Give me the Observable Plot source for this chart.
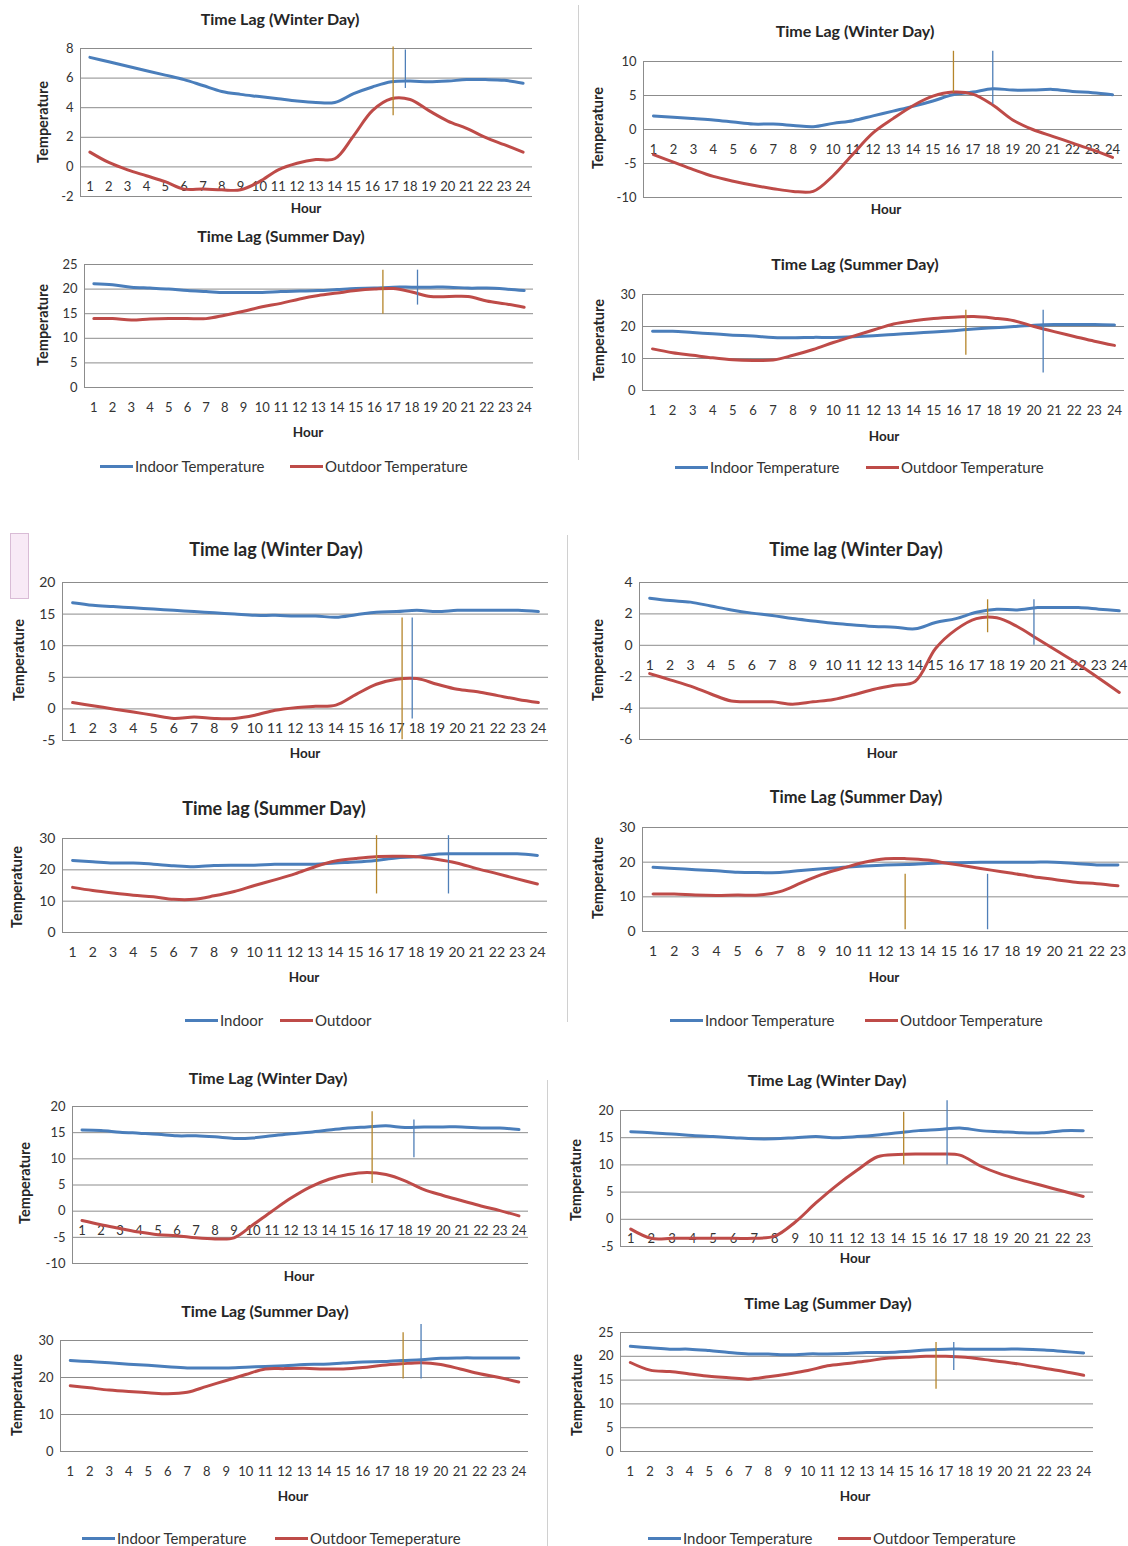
<!DOCTYPE html>
<html><head><meta charset="utf-8">
<script src="https://cdn.jsdelivr.net/npm/d3@7"></script>
<script src="https://cdn.jsdelivr.net/npm/@observablehq/plot@0.6"></script>
<style>
body{margin:0;background:#fff;font-family:Lato,"Open Sans",sans-serif;}
#page{position:relative;width:1128px;height:1546px;overflow:hidden;background:#fff;}
.abs{position:absolute;}
.title{font-weight:bold;color:#262626;white-space:nowrap;transform:translate(-50%,-50%);}
.hour{font-weight:bold;font-size:13.5px;color:#262626;white-space:nowrap;transform:translate(-50%,-50%);}
.temp{font-weight:bold;font-size:14.5px;color:#262626;white-space:nowrap;transform:translate(-50%,-50%) rotate(-90deg);}
.legend{font-size:15px;color:#333;white-space:nowrap;display:flex;align-items:center;transform:translateY(-50%);}
.sw{display:inline-block;width:33px;height:3px;margin-right:2px;}
.div{position:absolute;width:1px;background:#d0d0d0;}
</style></head><body><div id="page"></div>
<script>
// ---------- categories ----------
const hours24 = [1,2,3,4,5,6,7,8,9,10,11,12,13,14,15,16,17,18,19,20,21,22,23,24];
const hours23 = [1,2,3,4,5,6,7,8,9,10,11,12,13,14,15,16,17,18,19,20,21,22,23];

// ---------- titles & labels ----------
const titles = ["Time Lag (Winter Day)","Time Lag (Winter Day)","Time Lag (Summer Day)","Time Lag (Summer Day)",
  "Time lag (Winter Day)","Time lag (Winter Day)","Time lag (Summer Day)","Time Lag (Summer Day)",
  "Time Lag (Winter Day)","Time Lag (Winter Day)","Time Lag (Summer Day)","Time Lag (Summer Day)"];
const xTitle = "Hour";
const yTitle = "Temperature";
const legendA = ["Indoor Temperature","Outdoor Temperature"];
const legendB = ["Indoor","Outdoor"];
const legendC = ["Indoor Temperature","Outdoor Temeperature"];

// ---------- y tick labels ----------
const p1Ticks = [-2,0,2,4,6,8];
const p2Ticks = [-10,-5,0,5,10];
const p3Ticks = [0,5,10,15,20,25];
const p4Ticks = [0,10,20,30];
const p5Ticks = [-5,0,5,10,15,20];
const p6Ticks = [-6,-4,-2,0,2,4];
const p7Ticks = [0,10,20,30];
const p8Ticks = [0,10,20,30];
const p9Ticks = [-10,-5,0,5,10,15,20];
const p10Ticks = [-5,0,5,10,15,20];
const p11Ticks = [0,10,20,30];
const p12Ticks = [0,5,10,15,20,25];

// ---------- series ----------
const p1Indoor = [7.4,7.1,6.8,6.5,6.2,5.9,5.5,5.1,4.9,4.75,4.6,4.45,4.35,4.35,4.95,5.4,5.75,5.8,5.75,5.8,5.9,5.9,5.85,5.65];
const p1Outdoor = [1.0,0.3,-0.2,-0.6,-1.0,-1.5,-1.5,-1.55,-1.55,-1.0,-0.2,0.25,0.5,0.55,2.1,3.8,4.6,4.55,3.8,3.1,2.6,2.0,1.5,1.0];
const p2Indoor = [2.0,1.8,1.6,1.4,1.1,0.8,0.8,0.6,0.4,0.9,1.3,2.0,2.7,3.4,4.2,5.1,5.5,6.0,5.8,5.8,5.9,5.6,5.4,5.1];
const p2Outdoor = [-3.7,-4.8,-5.9,-6.9,-7.6,-8.2,-8.7,-9.1,-9.1,-6.8,-3.6,-0.5,1.6,3.5,4.9,5.5,5.2,3.6,1.4,0.0,-1.0,-2.0,-3.0,-4.1];
const p3Indoor = [21.1,20.9,20.4,20.2,20.0,19.7,19.5,19.3,19.3,19.3,19.5,19.6,19.7,19.9,20.1,20.2,20.4,20.4,20.4,20.4,20.2,20.2,20.0,19.7];
const p3Outdoor = [14.0,14.0,13.7,13.9,14.0,14.0,14.0,14.7,15.5,16.4,17.1,18.0,18.7,19.2,19.7,20.0,20.1,19.4,18.5,18.5,18.5,17.6,17.0,16.3];
const p4Indoor = [18.5,18.5,18.1,17.7,17.3,17.0,16.6,16.5,16.6,16.6,16.8,17.1,17.5,17.9,18.3,18.7,19.2,19.6,20.0,20.4,20.6,20.6,20.6,20.5];
const p4Outdoor = [13.0,11.8,11.0,10.2,9.6,9.4,9.5,11.0,12.8,15.0,17.0,18.9,20.8,21.8,22.5,22.9,23.1,22.6,21.8,20.0,18.4,16.9,15.4,14.1];
const p5Indoor = [16.8,16.4,16.2,16.0,15.8,15.6,15.4,15.2,15.0,14.8,14.8,14.7,14.7,14.5,14.9,15.3,15.4,15.6,15.4,15.6,15.6,15.6,15.6,15.4];
const p5Outdoor = [1.0,0.5,0.0,-0.5,-1.0,-1.5,-1.3,-1.5,-1.5,-1.0,-0.2,0.2,0.4,0.6,2.3,3.9,4.7,4.8,3.9,3.1,2.7,2.1,1.5,1.0];
const p6Indoor = [3.0,2.85,2.75,2.5,2.25,2.05,1.9,1.7,1.55,1.4,1.3,1.2,1.15,1.05,1.45,1.7,2.1,2.3,2.25,2.4,2.4,2.4,2.3,2.2];
const p6Outdoor = [-1.8,-2.2,-2.6,-3.1,-3.55,-3.6,-3.6,-3.75,-3.6,-3.45,-3.15,-2.8,-2.55,-2.3,-0.2,1.0,1.7,1.75,1.2,0.4,-0.4,-1.2,-2.1,-3.0];
const p7Indoor = [23.0,22.6,22.2,22.2,21.8,21.3,21.0,21.4,21.5,21.5,21.8,21.8,21.8,22.2,22.5,23.0,23.8,24.2,25.0,25.1,25.1,25.1,25.1,24.6];
const p7Outdoor = [14.4,13.4,12.6,11.9,11.4,10.6,10.6,11.7,13.1,15.0,16.8,18.7,21.0,22.8,23.6,24.2,24.3,24.2,23.4,22.2,20.4,18.8,17.1,15.5];
const p8Indoor = [18.5,18.2,17.8,17.5,17.1,17.0,17.0,17.6,18.1,18.5,18.9,19.2,19.3,19.6,19.8,19.9,20.0,20.0,20.0,20.0,19.6,19.2,19.2];
const p8Outdoor = [10.8,10.8,10.5,10.4,10.5,10.5,11.5,14.0,16.5,18.3,20.0,21.0,21.0,20.6,19.6,18.7,17.7,16.8,15.8,15.0,14.2,13.8,13.2];
const p9Indoor = [15.5,15.4,15.1,14.9,14.7,14.4,14.4,14.2,13.9,14.0,14.4,14.8,15.1,15.5,15.9,16.1,16.3,16.0,16.1,16.1,16.1,15.9,15.9,15.6];
const p9Outdoor = [-1.8,-2.6,-3.3,-4.0,-4.5,-4.7,-5.1,-5.3,-5.1,-2.6,0.0,2.5,4.6,6.1,7.0,7.4,7.0,5.8,4.1,3.0,2.0,1.0,0.1,-0.9];
const p10Indoor = [16.1,15.9,15.7,15.4,15.2,15.0,14.8,14.8,15.0,15.2,15.0,15.2,15.5,15.9,16.3,16.5,16.8,16.3,16.1,15.9,15.9,16.3,16.3];
const p10Outdoor = [-1.8,-3.5,-3.5,-3.5,-3.5,-3.5,-3.5,-3.1,-0.5,3.0,6.2,9.0,11.5,11.9,12.0,12.0,11.8,9.8,8.3,7.2,6.2,5.2,4.2];
const p11Indoor = [24.6,24.3,24.0,23.6,23.3,22.9,22.6,22.6,22.6,22.8,23.0,23.2,23.5,23.6,23.9,24.2,24.3,24.6,24.8,25.2,25.3,25.3,25.3,25.3];
const p11Outdoor = [17.8,17.2,16.6,16.2,15.9,15.6,16.0,17.6,19.2,20.8,22.3,22.4,22.5,22.3,22.3,22.7,23.3,23.7,24.0,23.5,22.3,21.0,20.0,18.8];
const p12Indoor = [22.1,21.8,21.5,21.5,21.2,20.8,20.5,20.5,20.3,20.5,20.5,20.6,20.8,20.8,21.0,21.3,21.5,21.5,21.5,21.5,21.5,21.3,21.0,20.7];
const p12Outdoor = [18.7,17.1,16.8,16.3,15.8,15.5,15.2,15.7,16.3,17.0,18.0,18.5,19.0,19.6,19.8,20.0,20.0,19.8,19.3,18.8,18.2,17.5,16.8,16.0];

// ---------- time-lag markers: [hour, low temp, high temp] ----------
const lagOutdoor = [[17.1,3.45,8.1],[16.03,5.4,11.5],[16.45,14.9,23.85],[16.6,11.0,25.1],[17.27,-4.9,14.4],[17.55,0.8,2.9],
  [16.04,12.3,30.9],[12.93,0.5,16.5],[16.27,5.3,19.0],[14.27,10.0,19.7],[18.07,19.6,32.1],[16.51,13.1,22.9]];
const lagIndoor = [[17.75,5.3,7.9],[18.0,3.7,11.5],[18.3,16.75,23.85],[20.45,5.5,25.1],[17.77,-1.6,14.4],[19.82,0.0,2.9],
  [19.6,12.3,30.9],[16.83,0.5,16.5],[18.47,10.2,17.4],[16.38,10.0,21.8],[18.99,19.6,34.3],[17.41,17.0,22.9]];

// ---------- styles ----------
const BLUE = "#4a7ebb", RED = "#be4b48", GRID = "#8c8c8c", LAG_OUT = "#b5852a", LAG_IN = "#4f7fb8";

// ---------- layout (plot frame edges, label centres) ----------
const layout = [
 {L:80,R:532,T:48,B:196, tt:[280,18,16], hr:[306,208], tp:[42,122], fs:13},
 {L:643,R:1122,T:61,B:197, tt:[855,30,16], hr:[886,209], tp:[597,128], fs:13},
 {L:84,R:533,T:264,B:387, tt:[281,235,16], hr:[308,432], tp:[42,325], fs:13},
 {L:642,R:1124,T:294,B:390, tt:[855,263,16], hr:[884,436], tp:[598,340], fs:13},
 {L:62,R:548,T:582,B:740, tt:[276,549,18], hr:[305,753], tp:[18,660], fs:14},
 {L:639,R:1129,T:582,B:739, tt:[856,549,18], hr:[882,753], tp:[597,660], fs:14},
 {L:62,R:547,T:838,B:932, tt:[274,808,18], hr:[304,977], tp:[16,887], fs:14},
 {L:642,R:1128,T:827,B:931, tt:[856,797,16.5], hr:[884,977], tp:[597,878], fs:14},
 {L:72,R:528,T:1106,B:1263, tt:[268,1077,16], hr:[299,1276], tp:[24,1183], fs:13},
 {L:620,R:1093,T:1110,B:1246, tt:[827,1079,16], hr:[855,1258], tp:[575,1180], fs:13},
 {L:60,R:528,T:1340,B:1451, tt:[265,1310,16], hr:[293,1496], tp:[16,1395], fs:13},
 {L:620,R:1093,T:1332,B:1451, tt:[828,1302,16], hr:[855,1496], tp:[576,1395], fs:13}
];
const panels = [
 {hours:hours24, ticks:p1Ticks, indoor:p1Indoor, outdoor:p1Outdoor},
 {hours:hours24, ticks:p2Ticks, indoor:p2Indoor, outdoor:p2Outdoor},
 {hours:hours24, ticks:p3Ticks, indoor:p3Indoor, outdoor:p3Outdoor},
 {hours:hours24, ticks:p4Ticks, indoor:p4Indoor, outdoor:p4Outdoor},
 {hours:hours24, ticks:p5Ticks, indoor:p5Indoor, outdoor:p5Outdoor},
 {hours:hours24, ticks:p6Ticks, indoor:p6Indoor, outdoor:p6Outdoor},
 {hours:hours24, ticks:p7Ticks, indoor:p7Indoor, outdoor:p7Outdoor},
 {hours:hours23, ticks:p8Ticks, indoor:p8Indoor, outdoor:p8Outdoor},
 {hours:hours24, ticks:p9Ticks, indoor:p9Indoor, outdoor:p9Outdoor},
 {hours:hours23, ticks:p10Ticks, indoor:p10Indoor, outdoor:p10Outdoor},
 {hours:hours24, ticks:p11Ticks, indoor:p11Indoor, outdoor:p11Outdoor},
 {hours:hours24, ticks:p12Ticks, indoor:p12Indoor, outdoor:p12Outdoor}
];
const legends = [
 {y:466, xs:[100,290], labels:legendA},
 {y:467, xs:[675,866], labels:legendA},
 {y:1020, xs:[185,280], labels:legendB},
 {y:1020, xs:[670,865], labels:legendA},
 {y:1538, xs:[82,275], labels:legendC},
 {y:1538, xs:[648,838], labels:legendA}
];

const page = document.getElementById("page");
function addDiv(cls, x, y, html, extra) {
  const d = document.createElement("div");
  d.className = "abs " + cls;
  d.style.left = x + "px"; d.style.top = y + "px";
  d.innerHTML = html;
  if (extra) Object.assign(d.style, extra);
  page.appendChild(d);
  return d;
}

// decorations: column separators and small pink box
[[578,5,455],[567,535,487],[547,1080,466]].forEach(([x,y,h]) => {
  const d = document.createElement("div"); d.className = "div";
  d.style.left = x+"px"; d.style.top = y+"px"; d.style.height = h+"px"; page.appendChild(d);
});
addDiv("", 10, 533, "", {width:"17px", height:"64px", background:"#f8eaf6", border:"1px solid #d9bcd6"});

panels.forEach((p, i) => {
  const g = layout[i];
  const mL = 45, mR = 8, mT = 22, mB = 30;
  const n = p.hours.length;
  const ind = p.hours.map((h, k) => ({hour: h, value: p.indoor[k]}));
  const out = p.hours.map((h, k) => ({hour: h, value: p.outdoor[k]}));
  const svg = Plot.plot({
    width: g.R - g.L + mL + mR,
    height: g.B - g.T + mT + mB,
    marginLeft: mL, marginRight: mR, marginTop: mT, marginBottom: mB,
    x: {domain: [0.5, n + 0.5], axis: null},
    y: {domain: [p.ticks[0], p.ticks[p.ticks.length - 1]], axis: null},
    style: {fontFamily: "Lato, 'Open Sans', sans-serif", background: "transparent", overflow: "visible", maxWidth: "none"},
    marks: [
      Plot.ruleY(p.ticks, {stroke: GRID, strokeWidth: 1}),
      Plot.ruleX([0.5], {stroke: GRID, strokeWidth: 1}),
      Plot.text(p.ticks, {x: () => 0.5, y: d => d, text: d => String(d), textAnchor: "end", dx: -7, fontSize: g.fs, fill: "#333"}),
      Plot.text(p.hours, {x: d => d, y: () => 0, text: d => String(d), dy: 20, fontSize: g.fs, fill: "#333"}),
      Plot.line(ind, {x: "hour", y: "value", stroke: BLUE, strokeWidth: 3, curve: "catmull-rom"}),
      Plot.line(out, {x: "hour", y: "value", stroke: RED, strokeWidth: 3, curve: "catmull-rom"}),
      Plot.ruleX([lagOutdoor[i]], {x: d => d[0], y1: d => d[1], y2: d => d[2], stroke: LAG_OUT, strokeWidth: 1.3}),
      Plot.ruleX([lagIndoor[i]], {x: d => d[0], y1: d => d[1], y2: d => d[2], stroke: LAG_IN, strokeWidth: 1.3})
    ]
  });
  const wrap = document.createElement("div");
  wrap.className = "abs";
  wrap.style.left = (g.L - mL) + "px";
  wrap.style.top = (g.T - mT) + "px";
  wrap.appendChild(svg);
  page.appendChild(wrap);
  addDiv("title", g.tt[0], g.tt[1], titles[i], {fontSize: g.tt[2] + "px"});
  addDiv("hour", g.hr[0], g.hr[1], xTitle);
  addDiv("temp", g.tp[0], g.tp[1], yTitle);
});

legends.forEach(lg => {
  lg.xs.forEach((x, k) => {
    const color = k === 0 ? BLUE : RED;
    addDiv("legend", x, lg.y, `<span class="sw" style="background:${color}"></span><span>${lg.labels[k]}</span>`);
  });
});
</script></body></html>
